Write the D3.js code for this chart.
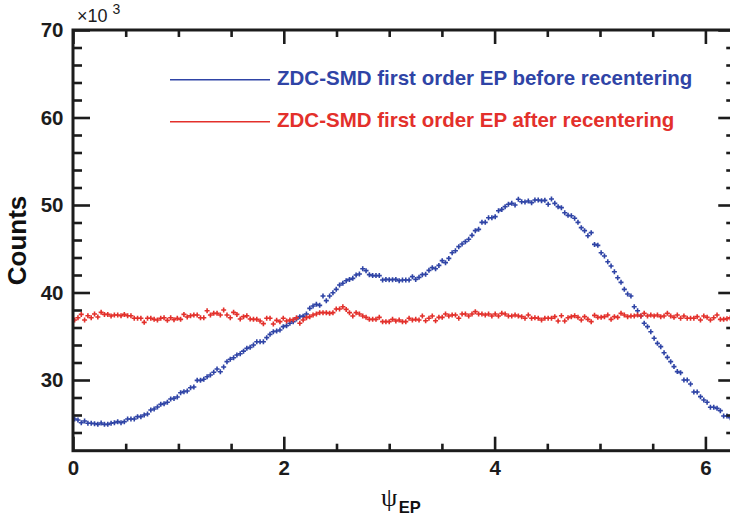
<!DOCTYPE html>
<html>
<head>
<meta charset="utf-8">
<script src="https://cdn.jsdelivr.net/npm/d3@7"></script>
<style>
  html, body { margin: 0; padding: 0; background: #fff; }
  svg { display: block; }
  text { font-family: "Liberation Sans", Arial, Helvetica, sans-serif; }
</style>
</head>
<body>
<svg id="chart" width="730" height="522"></svg>
<script>
// Event-plane angle distribution, 200 bins over [0, 2π], counts in units of 10^3
const nBins = 200;
const xMax = 2 * Math.PI;

const beforeRecentering = [
  25.54, 25.43, 25.12, 25.31, 25.05, 25.05, 25.01, 24.93, 25.09, 24.93,
  24.93, 25.05, 25.12, 25.24, 25.12, 25.24, 25.54, 25.54, 25.54, 25.81,
  25.81, 26.00, 26.11, 26.57, 26.69, 26.91, 27.22, 27.30, 27.45, 27.83,
  27.90, 28.06, 28.55, 28.67, 28.74, 29.12, 29.20, 29.96, 29.96, 30.08,
  30.38, 30.57, 30.88, 31.26, 30.95, 31.49, 32.10, 32.37, 32.55, 32.86,
  33.00, 33.30, 33.62, 33.73, 34.00, 34.38, 34.38, 34.38, 34.84, 35.22,
  35.52, 35.60, 35.71, 36.10, 36.21, 36.48, 36.67, 36.97, 37.24, 37.30,
  37.54, 38.19, 38.46, 38.65, 38.53, 39.60, 39.07, 39.60, 39.98, 40.36,
  40.86, 41.05, 41.35, 41.50, 41.62, 42.00, 42.11, 42.72, 42.50, 42.04,
  41.93, 41.93, 41.93, 41.43, 41.50, 41.47, 41.47, 41.50, 41.35, 41.43,
  41.43, 41.43, 41.81, 41.50, 41.73, 42.04, 42.08, 42.53, 42.84, 42.72,
  43.10, 43.64, 43.41, 43.90, 44.55, 44.78, 45.24, 45.54, 45.81, 46.08,
  46.53, 47.07, 47.22, 48.02, 48.02, 48.55, 48.55, 48.67, 49.35, 49.50,
  49.81, 50.08, 50.19, 50.00, 50.65, 50.38, 50.34, 50.46, 50.27, 50.57,
  50.57, 50.50, 50.53, 50.08, 50.69, 50.19, 49.81, 49.70, 49.12, 48.82,
  48.78, 48.48, 48.02, 47.41, 47.07, 46.49, 46.84, 45.50, 45.39, 44.55,
  44.17, 43.52, 43.03, 42.38, 41.69, 41.16, 40.36, 39.83, 39.60, 38.38,
  37.92, 37.31, 36.48, 36.10, 35.52, 34.77, 34.19, 33.81, 33.12, 32.59,
  32.10, 31.53, 30.96, 30.84, 30.00, 30.00, 29.54, 28.63, 28.63, 28.10,
  27.71, 27.45, 26.88, 26.88, 26.76, 26.50, 25.89, 25.89, 25.70, 25.60
];

const afterRecentering = [
  36.86, 37.12, 37.50, 36.86, 37.35, 37.12, 37.54, 37.20, 37.73, 37.50,
  37.50, 37.31, 37.43, 37.43, 37.35, 37.50, 37.35, 37.35, 37.05, 37.05,
  37.05, 36.59, 37.05, 37.05, 36.93, 36.86, 37.05, 37.12, 36.82, 37.12,
  36.90, 37.05, 36.93, 37.50, 37.20, 37.35, 37.43, 37.43, 37.12, 37.12,
  37.92, 37.43, 37.62, 37.62, 37.43, 38.00, 37.43, 37.12, 37.73, 37.50,
  36.97, 37.24, 37.35, 36.97, 36.93, 36.93, 36.74, 36.44, 37.05, 37.05,
  36.40, 36.82, 36.67, 37.05, 36.74, 36.86, 36.90, 37.12, 36.48, 36.86,
  37.12, 37.24, 37.43, 37.54, 37.70, 37.70, 37.70, 37.62, 37.70, 38.11,
  38.11, 38.38, 38.07, 37.70, 37.31, 37.70, 37.54, 37.31, 37.16, 36.93,
  36.93, 36.93, 37.16, 36.67, 36.67, 36.67, 36.93, 36.74, 36.86, 36.67,
  36.67, 37.05, 36.86, 36.93, 36.86, 37.31, 36.78, 37.05, 37.31, 36.78,
  37.16, 37.16, 37.54, 37.31, 37.43, 37.43, 37.05, 37.54, 37.54, 37.31,
  37.54, 37.81, 37.54, 37.54, 37.43, 37.54, 37.31, 37.54, 37.31, 37.62,
  37.54, 37.31, 37.31, 37.43, 37.31, 37.24, 37.05, 37.43, 37.05, 37.12,
  37.05, 36.86, 37.05, 37.05, 37.05, 37.24, 36.74, 37.35, 36.74, 37.12,
  37.24, 37.35, 37.16, 36.86, 37.24, 36.93, 36.67, 37.39, 37.16, 37.16,
  37.24, 37.43, 36.93, 37.24, 37.16, 37.62, 37.43, 37.24, 37.31, 37.31,
  37.43, 37.31, 37.62, 37.31, 37.43, 37.31, 37.43, 37.24, 37.31, 37.62,
  37.31, 37.16, 37.43, 37.05, 37.31, 37.05, 37.05, 37.05, 37.24, 36.86,
  37.31, 37.16, 36.86, 37.12, 37.43, 36.93, 36.93, 37.01, 37.10, 37.00
];

const seriesNames = [
  "ZDC-SMD first order EP before recentering",
  "ZDC-SMD first order EP after recentering"
];
const seriesColors = ["#2f44a6", "#e3302b"];

const xMajorTicks = [0, 2, 4, 6];
const xMinorTicks = [0.5, 1, 1.5, 2.5, 3, 3.5, 4.5, 5, 5.5];
const yMajorTicks = [30, 40, 50, 60, 70];
const yMinorTicks = [24, 26, 28, 32, 34, 36, 38, 42, 44, 46, 48, 52, 54, 56, 58, 62, 64, 66, 68];

// ---- layout ----
const svg = d3.select("#chart");
const plot = { left: 73, top: 30, bottom: 450.7 };
const x = d3.scaleLinear().domain([0, xMax]).range([plot.left, plot.left + xMax * 105.4]);
const y = d3.scaleLinear().domain([21.92, 70]).range([plot.bottom, plot.top]);
const plotRight = x(xMax);
const ink = "#1c1c1c";

const binWidth = xMax / nBins;
const binCenters = d3.range(nBins).map(i => (i + 0.5) * binWidth);

// ---- markers ----
svg.append("clipPath").attr("id", "plotclip")
  .append("rect")
  .attr("x", plot.left).attr("y", plot.top)
  .attr("width", plotRight - plot.left).attr("height", plot.bottom - plot.top);

const marks = svg.append("g").attr("clip-path", "url(#plotclip)");
const arm = 2.5;
[beforeRecentering, afterRecentering].forEach((vals, s) => {
  const g = marks.append("g")
    .attr("stroke", seriesColors[s])
    .attr("stroke-width", 1.6)
    .attr("fill", "none");
  g.selectAll("path")
    .data(vals)
    .join("path")
    .attr("d", (v, i) => {
      const cx = x(binCenters[i]), cy = y(v);
      return `M${cx - arm},${cy}H${cx + arm}M${cx},${cy - arm}V${cy + arm}`;
    });
});

// ---- axes (ticks drawn inward, mirrored on top/right) ----
function styleAxis(g) {
  g.select(".domain").remove();
  g.selectAll(".tick line").attr("stroke", ink).attr("stroke-width", 2.6);
  g.selectAll(".tick text")
    .attr("fill", ink)
    .attr("font-weight", "bold")
    .attr("font-size", "20.5px")
    .attr("font-family", "'Liberation Sans', Arial, sans-serif");
}

svg.append("g").attr("transform", `translate(${plot.left},0)`)
  .call(d3.axisLeft(y).tickValues(yMajorTicks).tickSize(-17).tickPadding(9.5).tickFormat(d3.format("d")))
  .call(styleAxis);
svg.append("g").attr("transform", `translate(${plot.left},0)`)
  .call(d3.axisLeft(y).tickValues(yMinorTicks).tickSize(-9).tickFormat(""))
  .call(styleAxis);
svg.append("g").attr("transform", `translate(${plotRight},0)`)
  .call(d3.axisRight(y).tickValues(yMajorTicks).tickSize(-17).tickFormat(""))
  .call(styleAxis);
svg.append("g").attr("transform", `translate(${plotRight},0)`)
  .call(d3.axisRight(y).tickValues(yMinorTicks).tickSize(-9).tickFormat(""))
  .call(styleAxis);

svg.append("g").attr("transform", `translate(0,${plot.bottom})`)
  .call(d3.axisBottom(x).tickValues(xMajorTicks).tickSize(-14).tickPadding(10).tickFormat(d3.format("d")))
  .call(styleAxis);
svg.append("g").attr("transform", `translate(0,${plot.bottom})`)
  .call(d3.axisBottom(x).tickValues(xMinorTicks).tickSize(-7).tickFormat(""))
  .call(styleAxis);
svg.append("g").attr("transform", `translate(0,${plot.top})`)
  .call(d3.axisTop(x).tickValues(xMajorTicks).tickSize(-14).tickFormat(""))
  .call(styleAxis);
svg.append("g").attr("transform", `translate(0,${plot.top})`)
  .call(d3.axisTop(x).tickValues(xMinorTicks).tickSize(-7).tickFormat(""))
  .call(styleAxis);

// frame
svg.append("rect")
  .attr("x", plot.left).attr("y", plot.top)
  .attr("width", plotRight - plot.left).attr("height", plot.bottom - plot.top)
  .attr("fill", "none").attr("stroke", ink).attr("stroke-width", 3);

// ---- exponent label ----
const expo = svg.append("text").attr("x", 77).attr("y", 21.5)
  .attr("fill", ink).attr("font-size", "18px");
expo.append("tspan").text("×10");
expo.append("tspan").attr("dx", 5).attr("dy", -8).attr("font-size", "14px").text("3");

// ---- axis titles ----
svg.append("text")
  .attr("transform", "translate(25.5,240.5) rotate(-90)")
  .attr("text-anchor", "middle")
  .attr("font-weight", "bold").attr("font-size", "26px")
  .attr("fill", "#111")
  .text("Counts");

const xt = svg.append("text").attr("x", 381).attr("y", 505.5).attr("fill", "#111");
xt.append("tspan").attr("font-family", "'Liberation Serif', 'DejaVu Serif', serif")
  .attr("font-size", "26px").text("ψ");
xt.append("tspan").attr("dx", 1.5).attr("dy", 7)
  .attr("font-weight", "bold").attr("font-size", "16.5px").text("EP");

// ---- legend ----
const legendRows = [79.7, 121.7];
seriesNames.forEach((name, s) => {
  const ly = legendRows[s];
  svg.append("line")
    .attr("x1", 170).attr("x2", 270)
    .attr("y1", ly).attr("y2", ly)
    .attr("stroke", seriesColors[s]).attr("stroke-width", 1.4);
  svg.append("text")
    .attr("x", 277).attr("y", ly + 5.5)
    .attr("fill", seriesColors[s])
    .attr("font-weight", "bold").attr("font-size", "20.5px")
    .text(name);
});
</script>
</body>
</html>
